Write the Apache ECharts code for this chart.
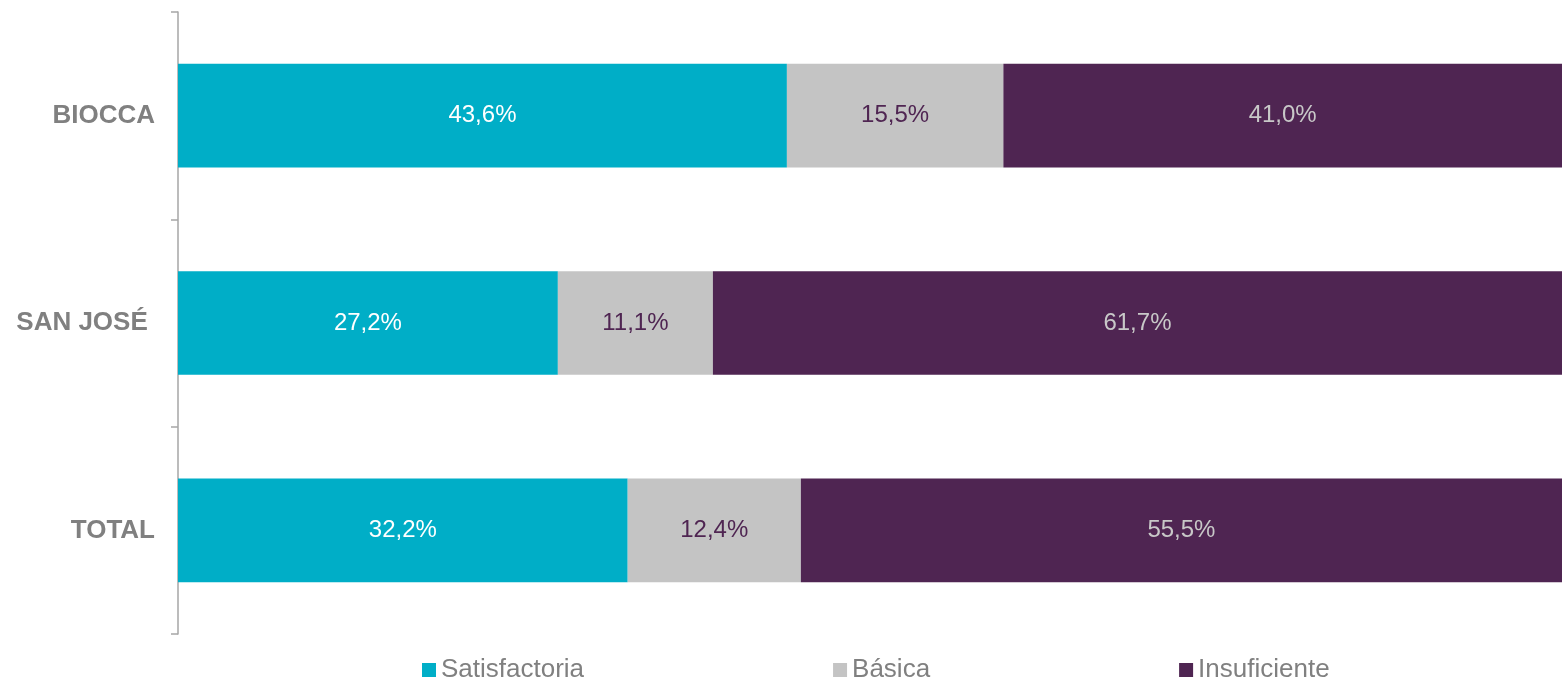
<!DOCTYPE html>
<html>
<head>
<meta charset="utf-8">
<script src="https://cdn.jsdelivr.net/npm/echarts@6/dist/echarts.min.js"></script>
<style>
  html, body { margin: 0; padding: 0; background: #fff; }
  #chart { width: 1562px; height: 681px; }
</style>
</head>
<body>
<div id="chart"></div>
<script>
var categories = ['BIOCCA', 'SAN JOSÉ ', 'TOTAL'];
var satisfactoria = [43.6, 27.2, 32.2];
var basica = [15.5, 11.1, 12.4];
var insuficiente = [41.0, 61.7, 55.5];

var FONT = '"Liberation Sans", Arial, sans-serif';

function pct(p) {
  return p.value.toFixed(1).replace('.', ',') + '%';
}

function bar(name, data, color, labelColor) {
  return {
    name: name,
    type: 'bar',
    stack: 'total',
    barWidth: '50%',
    data: data,
    itemStyle: { color: color },
    label: {
      show: true,
      position: 'inside',
      formatter: pct,
      color: labelColor,
      fontFamily: FONT,
      fontSize: 24
    }
  };
}

var chart = echarts.init(document.getElementById('chart'));
chart.setOption({
  animation: false,
  grid: { left: 178, right: 0, top: 12, bottom: 47 },
  legend: {
    top: 657,
    left: 422,
    padding: 0,
    itemWidth: 14,
    itemHeight: 14,
    itemGap: 249,
    icon: 'rect',
    textStyle: { color: '#808080', fontFamily: FONT, fontSize: 26 },
    data: ['Satisfactoria', 'Básica', 'Insuficiente']
  },
  xAxis: {
    type: 'value',
    min: 0,
    // the original picture is cropped on the right, the 100% end lies just past the edge
    max: 99.1,
    show: false
  },
  yAxis: {
    type: 'category',
    inverse: true,
    data: categories,
    axisLine: { show: true, lineStyle: { color: '#a6a6a6', width: 1.5 } },
    axisTick: { show: true, interval: 0, length: 7, lineStyle: { color: '#a6a6a6', width: 1.5 } },
    axisLabel: {
      color: '#808080',
      fontFamily: FONT,
      fontWeight: 'bold',
      fontSize: 26,
      margin: 23
    }
  },
  series: [
    bar('Satisfactoria', satisfactoria, '#00aec7', '#ffffff'),
    bar('Básica', basica, '#c4c4c4', '#4f2552'),
    bar('Insuficiente', insuficiente, '#4f2552', '#c8c8c8')
  ]
});
</script>
</body>
</html>
